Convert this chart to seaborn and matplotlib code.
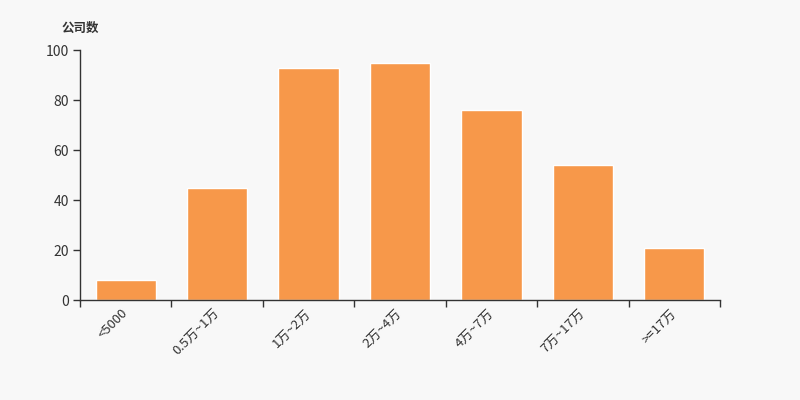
import matplotlib
matplotlib.use("Agg")
import matplotlib.pyplot as plt
import seaborn as sns
import numpy as np

# data
categories = ["<5000", "0.5万~1万", "1万~2万", "2万~4万", "4万~7万", "7万~17万", ">=17万"]
counts = [8, 45, 93, 95, 76, 54, 21]
y_ticks = [0, 20, 40, 60, 80, 100]

bg = "#f8f8f8"
bar_color = "#f7984a"
text_color = "#333333"

sns.set_style("white")
plt.rcParams['font.family'] = ['Noto Sans CJK SC', 'DejaVu Sans']

fig = plt.figure(figsize=(8, 4), dpi=100, facecolor=bg)
ax = fig.add_axes([0.1, 0.25, 0.8, 0.625], facecolor=bg)

sns.barplot(x=categories, y=counts, color=bar_color, saturation=1, width=0.66, ax=ax)

ax.set_xlim(-0.5, len(categories) - 0.5)
ax.set_ylim(0, 100)
ax.set_yticks(y_ticks)
ax.set_yticklabels([str(v) for v in y_ticks], fontsize=10, color=text_color)

# labels at category centres, tick marks at the boundaries
ax.set_xticks(np.arange(len(categories)))
ax.set_xticklabels(categories, rotation=45, ha="right", va="center",
                   rotation_mode="anchor", fontsize=9.5, color=text_color)
ax.set_xticks(np.arange(len(categories) + 1) - 0.5, minor=True)
ax.tick_params(axis="x", which="major", bottom=True, length=0, pad=8)
ax.tick_params(axis="x", which="minor", bottom=True, length=5, width=1,
               color=text_color, direction="out")
ax.tick_params(axis="y", left=True, length=5, width=1, color=text_color,
               direction="out", pad=3)

for side in ["top", "right"]:
    ax.spines[side].set_visible(False)
for side in ["left", "bottom"]:
    ax.spines[side].set_color(text_color)
    ax.spines[side].set_linewidth(1)

ax.set_xlabel("")
ax.set_ylabel("")
fig.text(0.1, 0.93, "公司数", ha="center", va="center", fontsize=9,
         fontweight="bold", color=text_color)

fig.savefig("out.png", dpi=100, facecolor=bg)
